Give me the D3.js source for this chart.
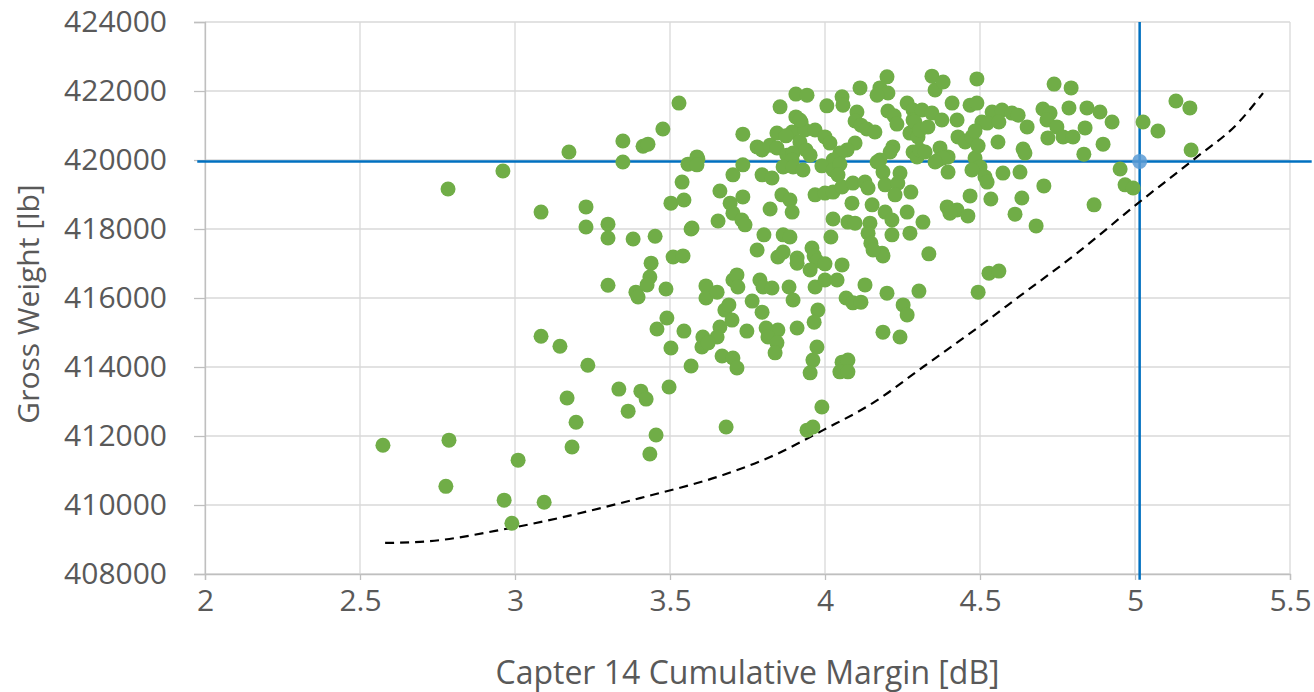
<!DOCTYPE html>
<html>
<head>
<meta charset="utf-8">
<script src="https://cdn.jsdelivr.net/npm/d3@7"></script>
<style>
  html, body { margin: 0; padding: 0; background: #ffffff; }
  svg { display: block; }
  text { font-family: "Open Sans", "Noto Sans", sans-serif; fill: #595959; }
</style>
</head>
<body>
<svg id="chart" width="1314" height="692"></svg>
<script>
// ---------- data ----------
const xTickValues = [2, 2.5, 3, 3.5, 4, 4.5, 5, 5.5];
const yTickValues = [408000, 410000, 412000, 414000, 416000, 418000, 420000, 422000, 424000];
const xAxisTitle = "Capter 14 Cumulative Margin [dB]";
const yAxisTitle = "Gross Weight [lb]";

// scatter points: [cumulative margin dB, gross weight lb]
const samples = [
  [2.574,411730],[2.787,411880],[2.777,410540],[2.784,419160],[2.961,419680],[2.965,410140],[2.990,409470],
  [3.010,411300],[3.084,418490],[3.084,414890],[3.094,410080],[3.145,414600],[3.174,420230],[3.168,413100],
  [3.184,411680],[3.197,412400],[3.229,418640],[3.229,418060],[3.235,414050],[3.300,418140],[3.300,417740],
  [3.300,416370],[3.335,413360],[3.348,420550],[3.348,419940],[3.365,412720],[3.381,417710],[3.390,416170],
  [3.397,416030],[3.406,413300],[3.423,413070],[3.413,420400],[3.429,420460],
  [3.455,412030],[3.435,411480],[3.452,417790],[3.439,417010],[3.435,416610],[3.426,416380],[3.529,421650],
  [3.477,420900],[3.558,419880],[3.590,420030],[3.539,419360],[3.503,418750],[3.545,418840],[3.568,418000],
  [3.510,417190],[3.542,417220],
  [3.906,421910],[3.942,421880],[3.855,421540],[3.906,421250],[3.923,421100],[3.894,420810],[3.919,420520],
  [3.735,420750],[3.781,420380],[3.797,420290],[3.823,420430],[3.845,420780],[3.845,420350],[3.877,420140],
  [3.897,420200],[3.587,420090],[3.735,419860],[3.874,420700],[3.935,420870],[3.968,420870],[4.000,420670],
  [4.016,420490],[3.939,420290],[3.952,420140],[3.894,420000],[3.865,419800],[3.897,419800],[3.929,419710],
  [4.200,422410],[4.113,422090],[4.177,422090],[4.203,421940],[4.168,421880],[4.055,421830],[4.058,421590],
  [4.006,421570],[4.265,421650],[4.284,421450],[4.103,421390],[4.097,421130],[4.116,421010],[4.135,420900],
  [4.161,420810],[4.203,421420],[4.223,421280],[4.232,421040],[3.919,421160],[4.274,420780],[4.300,420670],
  [4.284,421160],[4.219,420380],[4.210,420230],[4.097,420490],[4.071,420290],[4.048,420200],[4.177,420000],
  [4.284,420230],[4.297,420090],[4.026,420000],[3.990,419830],[4.026,419710],[4.048,419880],[4.042,419570],
  [4.168,419940],[4.187,419650],[4.194,419280],[4.242,419620],[4.235,419330],
  [3.587,419860],[3.703,419570],[3.797,419570],[3.829,419480],[3.661,419100],[3.694,418750],[3.703,418460],
  [3.735,418930],[3.823,418580],[3.861,418990],[3.887,418840],[3.894,418490],[3.655,418230],[3.732,418260],
  [3.742,418120],[3.571,418030],[3.803,417830],[3.865,417830],[3.887,417770],[3.781,417390],[3.848,417190],
  [3.865,417330],[3.910,417160],
  [3.958,417450],[3.965,417220],[3.974,417070],[4.000,416990],[4.019,417770],[4.026,418290],[4.074,418200],
  [4.097,418170],[4.087,418750],[3.968,418990],[4.000,419040],[4.026,419070],[4.055,419220],[4.090,419330],
  [4.129,419360],[4.139,419190],[4.152,418700],[4.194,418490],[4.216,418260],[4.265,418490],[4.226,418990],
  [4.277,419070],[4.145,418170],[4.139,417880],[4.148,417590],[4.216,417830],[4.274,417880],[4.184,417300],
  [4.316,418200],
  [4.355,422030],[4.410,421650],[4.468,421590],[4.490,421650],[4.313,421450],[4.345,421360],[4.539,421390],
  [4.571,421450],[4.603,421360],[4.623,421300],[4.377,421160],[4.426,421160],[4.506,421100],[4.523,421070],
  [4.561,421100],[4.290,421100],[4.306,420870],[4.332,420960],[4.429,420670],[4.452,420520],[4.474,420670],
  [4.558,420520],[4.306,420290],[4.323,420230],[4.371,420350],[4.365,420000],[4.397,420090],[4.484,420060],
  [4.500,419800],[4.474,419710],[4.397,419650],[4.516,419510],[4.574,419620],[4.629,419650],[4.484,420840],
  [4.494,420410],[4.639,420320],[4.645,420200],[4.345,422430],[4.381,422260],[4.490,422350],
  [4.739,422200],[4.794,422090],[5.132,421710],[5.177,421510],[4.703,421480],[4.726,421360],[4.787,421510],
  [4.845,421510],[4.887,421390],[4.926,421100],[5.026,421100],[5.074,420840],[4.652,420960],[4.716,421160],
  [4.748,420960],[4.768,420670],[4.800,420670],[4.839,420930],[4.719,420640],[4.897,420460],[4.835,420170],
  [4.706,419250],[4.952,419740],[4.968,419280],[4.994,419190],[5.181,420290],[4.468,418960],[4.535,418870],
  [4.635,418900],[4.394,418640],[4.426,418550],[4.403,418460],[4.461,418380],[4.613,418430],[4.681,418090],
  [4.868,418700],[4.335,417280],[4.523,419360],[4.381,420060],[4.355,419940],
  [4.529,416720],[4.561,416780],[4.303,416200],[4.494,416170],
  [3.487,416260],[3.490,415420],[3.458,415100],[3.503,414550],[3.545,415040],[3.568,414030],[3.616,416350],
  [3.616,416000],[3.652,416170],[3.677,415650],[3.690,415800],[3.700,415360],[3.661,415160],[3.652,414870],
  [3.606,414870],[3.603,414580],[3.623,414700],[3.668,414320],[3.703,414260],[3.716,413970],[3.703,416520],
  [3.716,416670],[3.719,416320],[3.765,415910],[3.797,415590],[3.748,415040],[3.790,416520],[3.800,416320],
  [3.829,416290],[3.910,417010],[3.952,416810],[3.884,416320],[3.897,415940],[3.968,416320],[4.000,416520],
  [4.039,416520],[3.810,415130],[3.848,415070],[3.816,414870],[3.845,414700],[3.839,414410],[3.910,415130],
  [3.977,415650],[3.965,415300],[3.974,414580],[3.961,414200],[3.952,413830],[4.055,416960],[4.129,416380],
  [4.068,416000],[4.090,415860],[4.116,415880],[4.055,414140],[4.074,414200],[4.048,413860],[4.074,413860],
  [3.990,412840],[3.942,412170],[3.961,412260],[3.681,412260],[3.497,413420],[4.187,417220],[4.200,416140],
  [4.187,415010],[4.242,414870],[4.252,415800],[4.265,415510],[4.155,417390]
];

// highlighted design point and reference lines
const designPoint = [5.015, 419960];
const refWeight = 419960;
const refMargin = 5.015;

// lower boundary (dashed) curve
const boundMargin = [2.581, 2.694, 2.984, 3.403, 3.671, 3.823, 3.994, 4.155, 4.316, 4.500, 4.629, 4.813, 5.010, 5.200, 5.330, 5.413];
const boundWeight = [408900, 408930, 409330, 410200, 410870, 411390, 412170, 412960, 414000, 415190, 416060, 417300, 418750, 420090, 421050, 421940];

// ---------- layout ----------
const plot = { left: 205, top: 22, right: 1290, bottom: 574 };

const svg = d3.select("#chart");
const x = d3.scaleLinear().domain([2, 5.5]).range([plot.left, plot.right]);
const y = d3.scaleLinear().domain([408000, 424000]).range([plot.bottom, plot.top]);

// gridlines
svg.append("g").selectAll("line").data(yTickValues).join("line")
  .attr("x1", plot.left).attr("x2", plot.right)
  .attr("y1", d => y(d)).attr("y2", d => y(d))
  .attr("stroke", "#d9d9d9").attr("stroke-width", 1.3);
svg.append("g").selectAll("line").data(xTickValues).join("line")
  .attr("x1", d => x(d)).attr("x2", d => x(d))
  .attr("y1", plot.top).attr("y2", plot.bottom)
  .attr("stroke", "#d9d9d9").attr("stroke-width", 1.3);

// axes
const yAxis = d3.axisLeft(y).tickValues(yTickValues).tickSize(11).tickPadding(27).tickFormat(d3.format("d"));
const xAxis = d3.axisBottom(x).tickValues(xTickValues).tickSize(6).tickPadding(10).tickFormat(d => String(d));

const gy = svg.append("g").attr("transform", `translate(${plot.left},0)`).call(yAxis);
const gx = svg.append("g").attr("transform", `translate(0,${plot.bottom})`).call(xAxis);
[gx, gy].forEach(g => {
  g.select(".domain").attr("stroke", "#bfbfbf").attr("stroke-width", 1.3);
  g.selectAll(".tick line").attr("stroke", "#bfbfbf").attr("stroke-width", 1.3);
  g.selectAll(".tick text").attr("fill", "#595959").style("font-size", "30px")
    .style("font-family", '"Open Sans", "Noto Sans", sans-serif');
});
gx.selectAll(".tick text").attr("dy", "0.71em");

// reference lines
svg.append("line")
  .attr("x1", x(1.975)).attr("x2", x(5.57))
  .attr("y1", y(refWeight)).attr("y2", y(refWeight))
  .attr("stroke", "#0070c0").attr("stroke-width", 2.5);
svg.append("line")
  .attr("x1", x(refMargin)).attr("x2", x(refMargin))
  .attr("y1", y(424000)).attr("y2", y(407830))
  .attr("stroke", "#0070c0").attr("stroke-width", 2.5);

// boundary curve
const boundary = boundMargin.map((m, i) => [m, boundWeight[i]]);
svg.append("path")
  .datum(boundary)
  .attr("fill", "none").attr("stroke", "#000").attr("stroke-width", 2.2)
  .attr("stroke-dasharray", "9,6")
  .attr("d", d3.line().x(d => x(d[0])).y(d => y(d[1])).curve(d3.curveMonotoneX));

// scatter
svg.append("g").selectAll("circle").data(samples).join("circle")
  .attr("cx", d => x(d[0])).attr("cy", d => y(d[1])).attr("r", 7.5)
  .attr("fill", "#70ad47");

// design point
svg.append("circle")
  .attr("cx", x(designPoint[0])).attr("cy", y(designPoint[1])).attr("r", 7.5)
  .attr("fill", "#5b9bd5").attr("fill-opacity", 0.85);

// axis titles
svg.append("text")
  .attr("x", (plot.left + plot.right) / 2).attr("y", 684)
  .attr("text-anchor", "middle").style("font-size", "32px")
  .text(xAxisTitle);
svg.append("text")
  .attr("transform", `translate(39,${(plot.top + plot.bottom) / 2 + 6}) rotate(-90)`)
  .attr("text-anchor", "middle").style("font-size", "30px")
  .text(yAxisTitle);
</script>
</body>
</html>
